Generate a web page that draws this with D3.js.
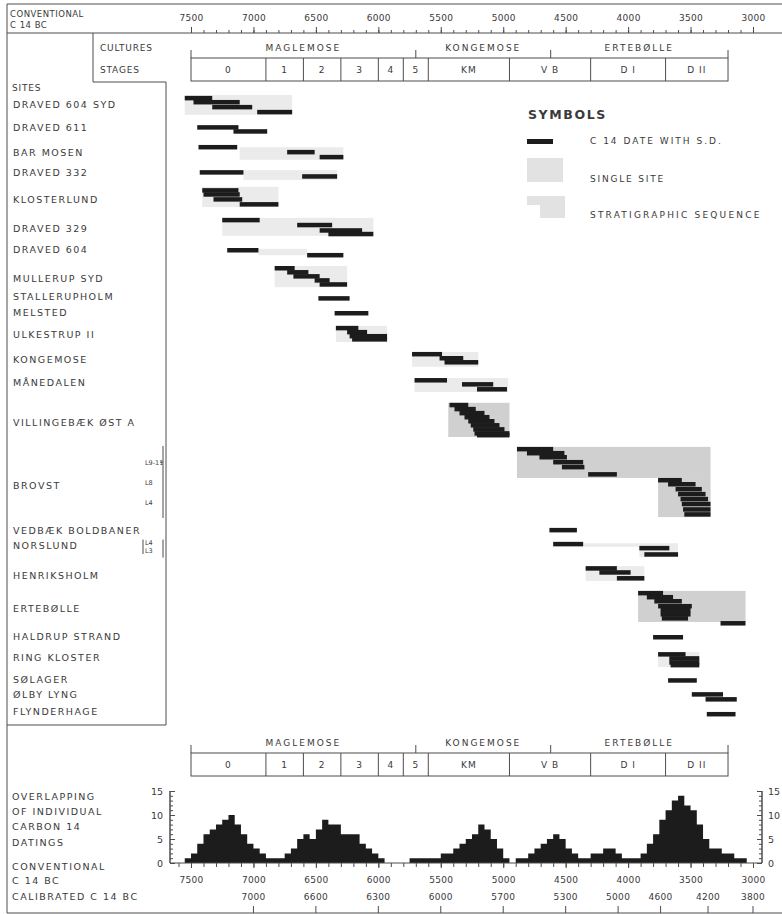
<!DOCTYPE html>
<html>
<head>
<meta charset="utf-8">
<script src="https://cdn.jsdelivr.net/npm/d3@7"></script>
<style>
  html, body { margin: 0; padding: 0; background: #fff; }
  svg { display: block; }
  text { font-family: "DejaVu Sans", sans-serif; fill: #3a3a3a; }
</style>
</head>
<body>
<svg id="chart" width="782" height="914"></svg>
<script>
// ---- Time axis (conventional C14 years BC) ----
const axisYears = [7500, 7000, 6500, 6000, 5500, 5000, 4500, 4000, 3500, 3000];

// ---- Cultures and stages ----
const cultureNames = ["MAGLEMOSE", "KONGEMOSE", "ERTEBØLLE"];
const cultureBounds = [7500, 5700, 4620, 3200];
const stageNames = ["0", "1", "2", "3", "4", "5", "KM", "V B", "D I", "D II"];
const stageBounds = [7500, 6900, 6600, 6300, 6000, 5800, 5600, 4950, 4300, 3700, 3200];

// ---- Sites (row position in lanes) ----
const siteNames = [
  "DRAVED 604 SYD", "DRAVED 611", "BAR MOSEN", "DRAVED 332", "KLOSTERLUND",
  "DRAVED 329", "DRAVED 604", "MULLERUP SYD", "STALLERUPHOLM", "MELSTED",
  "ULKESTRUP II", "KONGEMOSE", "MÅNEDALEN", "VILLINGEBÆK ØST A", "BROVST",
  "VEDBÆK BOLDBANER", "NORSLUND", "HENRIKSHOLM", "ERTEBØLLE", "HALDRUP STRAND",
  "RING KLOSTER", "SØLAGER", "ØLBY LYNG", "FLYNDERHAGE"
];
const siteLanes = [
  2.2, 7.3, 12.9, 17.3, 23.3, 29.6, 34.4, 40.9, 44.9, 48.4,
  53.3, 58.9, 64, 72.7, 86.9, 96.7, 100.2, 106.7, 114.2, 120.4,
  125.1, 129.8, 133.3, 137.1
];
// layer sub-labels [label, lane]
const layerLabels = [["L9-11", 81.6], ["L8", 86.2], ["L4", 90.7], ["L4", 99.4], ["L3", 101.2]];

// ---- C14 dates with S.D.: [from BC, to BC, lane] ----
const c14Dates = [
  // Draved 604 Syd
  [7550, 7330, 0.2], [7480, 7110, 1.1], [7330, 7010, 2.2], [6970, 6690, 3.3],
  // Draved 611
  [7450, 7120, 6.7], [7160, 6890, 7.6],
  // Bar Mosen
  [7440, 7130, 11.1], [6730, 6510, 12.2], [6470, 6280, 13.3],
  // Draved 332
  [7430, 7080, 16.7], [6610, 6330, 17.6],
  // Klosterlund
  [7410, 7120, 20.7], [7400, 7110, 21.6], [7320, 7090, 22.7], [7110, 6800, 23.8],
  // Draved 329
  [7250, 6950, 27.3], [6650, 6370, 28.4], [6470, 6130, 29.6], [6400, 6040, 30.4],
  // Draved 604
  [7210, 6960, 34], [6570, 6280, 35.1],
  // Mullerup Syd
  [6830, 6670, 38], [6730, 6560, 38.9], [6680, 6470, 39.8], [6510, 6390, 40.7], [6470, 6250, 41.6],
  // Stallerupholm, Melsted
  [6480, 6230, 44.7], [6350, 6080, 48],
  // Ulkestrup II
  [6340, 6160, 51.3], [6250, 6090, 52.2], [6230, 5930, 53.1], [6210, 5930, 53.8],
  // Kongemose
  [5730, 5490, 57.1], [5510, 5320, 58], [5470, 5200, 58.9],
  // Månedalen
  [5710, 5450, 62.9], [5330, 5080, 63.8], [5210, 4970, 64.9],
  // Villingebæk Øst A
  [5430, 5280, 68.4], [5390, 5220, 69.3], [5350, 5150, 70.2], [5310, 5110, 71.1],
  [5280, 5070, 72], [5260, 5030, 72.9], [5240, 4990, 73.8], [5230, 4950, 74.7], [5210, 4950, 75.1],
  // Brovst
  [4890, 4600, 78.2], [4810, 4510, 79.1], [4710, 4490, 80], [4600, 4360, 81.1],
  [4530, 4350, 82.2], [4320, 4090, 83.8],
  [3760, 3570, 85.1], [3680, 3460, 86], [3620, 3410, 87.1], [3600, 3380, 88.2],
  [3580, 3360, 89.3], [3570, 3340, 90.4], [3560, 3340, 91.6], [3550, 3340, 92.7],
  // Vedbæk Boldbaner
  [4630, 4410, 96.2],
  // Norslund
  [4600, 4360, 99.3], [3910, 3670, 100.2], [3870, 3600, 101.6],
  // Henriksholm
  [4340, 4090, 104.7], [4230, 3980, 105.6], [4090, 3870, 106.9],
  // Ertebølle
  [3920, 3720, 110.2], [3850, 3640, 111.1], [3790, 3570, 112], [3760, 3490, 113.1],
  [3740, 3500, 114], [3740, 3500, 114.9], [3730, 3520, 115.8], [3260, 3060, 116.9],
  // Haldrup Strand
  [3800, 3560, 120],
  // Ring Kloster
  [3760, 3540, 123.8], [3670, 3430, 124.7], [3670, 3430, 125.6], [3660, 3430, 126.2],
  // Sølager, Ølby Lyng, Flynderhage
  [3680, 3450, 129.6], [3490, 3240, 132.7], [3380, 3130, 133.8], [3370, 3140, 137.1]
];

// ---- Shaded ranges: [from BC, to BC, lane top, lane bottom] ----
const sequenceBlocks = [
  [5440, 4950, 68.4, 76],     // Villingebæk Øst A
  [4890, 3340, 78.2, 85.1],   // Brovst upper layers
  [3760, 3340, 85.1, 93.8],   // Brovst lower layers
  [3920, 3060, 110.2, 117.1]  // Ertebølle
];
const siteSpans = [
  [7550, 6690, 0, 4.4], [7110, 6280, 11.6, 14.4], [7080, 6330, 16.7, 18.9],
  [7410, 6800, 20.4, 24.9], [7250, 6040, 27.3, 31.3], [6960, 6570, 34.2, 35.6],
  [6830, 6250, 38, 42.7], [6340, 5930, 51.3, 54.9], [5730, 5200, 57.1, 60.4],
  [5710, 4960, 62.9, 66], [4360, 3910, 99.6, 100.4], [3910, 3600, 99.6, 102.7],
  [4340, 3870, 104.7, 108], [3760, 3430, 123.8, 127.1]
];

// ---- Overlapping of individual C14 datings, 50-year bins ----
const overlapBins = [
  7550, 7500, 7450, 7400, 7350, 7300, 7250, 7200, 7150, 7100,
  7050, 7000, 6950, 6900, 6850, 6800, 6750, 6700, 6650, 6600,
  6550, 6500, 6450, 6400, 6350, 6300, 6250, 6200, 6150, 6100,
  6050, 6000, 5950, 5900, 5850, 5800, 5750, 5700, 5650, 5600,
  5550, 5500, 5450, 5400, 5350, 5300, 5250, 5200, 5150, 5100,
  5050, 5000, 4950, 4900, 4850, 4800, 4750, 4700, 4650, 4600,
  4550, 4500, 4450, 4400, 4350, 4300, 4250, 4200, 4150, 4100,
  4050, 4000, 3950, 3900, 3850, 3800, 3750, 3700, 3650, 3600,
  3550, 3500, 3450, 3400, 3350, 3300, 3250, 3200, 3150, 3100
];
const overlapCounts = [
  1, 2, 4, 6, 7, 8, 9, 10, 8, 6,
  4, 3, 2, 1, 1, 1, 2, 3, 5, 6,
  5, 7, 9, 8, 8, 6, 6, 6, 4, 3,
  2, 1, 0, 0, 0, 0, 1, 1, 1, 1,
  1, 2, 2, 3, 4, 5, 6, 8, 7, 5,
  3, 1, 0, 1, 1, 2, 3, 4, 5, 6,
  5, 3, 2, 1, 1, 2, 2, 3, 3, 2,
  1, 1, 1, 2, 4, 6, 9, 11, 13, 14,
  12, 11, 8, 5, 3, 3, 2, 2, 1, 1
];
const overlapTicks = [0, 5, 10, 15];

// ---- Calibrated C14 BC labels and their conventional positions ----
const calibratedLabels = [7000, 6600, 6300, 6000, 5700, 5300, 5000, 4600, 4200, 3800];
const calibratedAt = [7000, 6500, 6000, 5500, 5000, 4500, 4080, 3740, 3360, 3000];

// ================= drawing =================
const ink = "#4d4d4d";
const svg = d3.select("#chart");
svg.append("rect").attr("width", 782).attr("height", 914).attr("fill", "#fff");

const xs = d3.scaleLinear().domain([7500, 3000]).range([191, 753]);
const laneY = d3.scaleLinear().domain([0, 140]).range([95, 725]);

function rule(x1, y1, x2, y2, w = 1) {
  svg.append("line").attr("x1", x1).attr("y1", y1).attr("x2", x2).attr("y2", y2)
    .attr("stroke", ink).attr("stroke-width", w);
}
function label(x, y, s, size = 9.5, anchor = "start", spacing = 1) {
  return svg.append("text").attr("x", x).attr("y", y).attr("dy", "0.36em")
    .attr("text-anchor", anchor).style("font-size", size + "px")
    .style("letter-spacing", spacing + "px").text(s);
}

// frame and panels
rule(7, 4, 782, 4);
rule(7, 4, 7, 913);
rule(7, 913, 782, 913);
rule(7, 33, 782, 33);
rule(93, 33, 93, 82);
rule(93, 82, 166, 82);
rule(166, 82, 166, 725);
rule(7, 725, 166, 725);

label(10, 14, "CONVENTIONAL", 8.5, "start", 0.5);
label(10, 25, "C 14 BC", 8.5, "start", 0.5);
label(100, 48, "CULTURES", 9, "start", 0.8);
label(100, 70, "STAGES", 9, "start", 0.8);
label(12, 88, "SITES", 9, "start", 0.8);

// top axis
const topAxis = svg.append("g").attr("transform", "translate(0,33)");
topAxis.call(d3.axisTop(xs).tickValues(d3.range(7500, 2999, -100)).tickSize(3).tickFormat(""));
topAxis.append("g").call(d3.axisTop(xs).tickValues(axisYears).tickSize(6).tickPadding(6).tickFormat(d3.format("d")));
topAxis.selectAll(".domain").remove();
topAxis.selectAll("line").attr("stroke", ink);
topAxis.selectAll("text").style("font-size", "9px").style("letter-spacing", "0.3px")
  .style("font-family", "'DejaVu Sans', sans-serif").attr("fill", "#3a3a3a");

// cultures / stages band
function drawStages(top) {
  const left = xs(stageBounds[0]), right = xs(stageBounds[stageBounds.length - 1]);
  svg.append("rect").attr("x", left).attr("y", top).attr("width", right - left).attr("height", 23)
    .attr("fill", "none").attr("stroke", ink);
  stageBounds.slice(1, -1).forEach(b => rule(xs(b), top, xs(b), top + 23));
  cultureBounds.forEach(b => rule(xs(b), top - 8, xs(b), top));
  cultureNames.forEach((n, i) =>
    label((xs(cultureBounds[i]) + xs(cultureBounds[i + 1])) / 2, top - 10, n, 9, "middle", 2));
  stageNames.forEach((n, i) =>
    label((xs(stageBounds[i]) + xs(stageBounds[i + 1])) / 2, top + 12, n, 9, "middle", 1));
}
drawStages(58);

// shaded ranges
svg.append("g").selectAll("rect").data(siteSpans).join("rect")
  .attr("x", d => xs(d[0])).attr("width", d => xs(d[1]) - xs(d[0]))
  .attr("y", d => laneY(d[2])).attr("height", d => laneY(d[3]) - laneY(d[2]))
  .attr("fill", "#ebebeb");
svg.append("g").selectAll("rect").data(sequenceBlocks).join("rect")
  .attr("x", d => xs(d[0])).attr("width", d => xs(d[1]) - xs(d[0]))
  .attr("y", d => laneY(d[2])).attr("height", d => laneY(d[3]) - laneY(d[2]))
  .attr("fill", "#d0d0d0");

// C14 dates
svg.append("g").selectAll("rect").data(c14Dates).join("rect")
  .attr("x", d => xs(d[0])).attr("width", d => xs(d[1]) - xs(d[0]))
  .attr("y", d => laneY(d[2])).attr("height", d => laneY(d[2] + 1) - laneY(d[2]))
  .attr("fill", "#1c1c1c");

// site labels
siteNames.forEach((n, i) => label(13, laneY(siteLanes[i]), n, 9.5, "start", 1.5));
layerLabels.forEach(([n, l]) => label(145, laneY(l), n, 6.5, "start", 0));
rule(163, laneY(78), 163, laneY(94));
rule(160, laneY(81.6), 163, laneY(81.6));
rule(163, laneY(98.8), 163, laneY(102.8));
rule(143, laneY(98.8), 143, laneY(102));

// legend
label(528, 114, "SYMBOLS", 12.5, "start", 1.6).style("font-weight", "bold").attr("fill", "#333");
svg.append("rect").attr("x", 527).attr("y", 139).attr("width", 26).attr("height", 5).attr("fill", "#1c1c1c");
label(590, 141, "C 14 DATE WITH S.D.", 9, "start", 2);
svg.append("rect").attr("x", 527).attr("y", 158).attr("width", 36).attr("height", 24).attr("fill", "#e2e2e2");
label(590, 179, "SINGLE SITE", 9, "start", 1.8);
svg.append("path").attr("d", "M527,196H565V218H540V205H527Z").attr("fill", "#e2e2e2");
label(590, 215, "STRATIGRAPHIC SEQUENCE", 9, "start", 2.2);

// ---- lower panel ----
drawStages(753);

const hy = d3.scaleLinear().domain([0, 15]).range([863, 791]);
const pts = overlapBins.map((b, i) => [b, overlapCounts[i]]);
pts.push([overlapBins[overlapBins.length - 1] - 50, overlapCounts[overlapCounts.length - 1]]);
svg.append("path").datum(pts)
  .attr("d", d3.area().curve(d3.curveStepAfter).x(d => xs(d[0])).y0(hy(0)).y1(d => hy(d[1])))
  .attr("fill", "#1c1c1c");

// left count axis
const la = svg.append("g").attr("transform", "translate(170,0)")
  .call(d3.axisRight(hy).tickValues(d3.range(0, 16)).tickSize(3).tickFormat(""));
la.append("g").call(d3.axisRight(hy).tickValues(overlapTicks).tickSize(5).tickFormat(d3.format("d")));
la.selectAll("text").attr("x", -7).attr("text-anchor", "end");
// right count axis
const ra = svg.append("g").attr("transform", "translate(762,0)")
  .call(d3.axisLeft(hy).tickValues(d3.range(0, 16)).tickSize(3).tickFormat(""));
ra.append("g").call(d3.axisLeft(hy).tickValues(overlapTicks).tickSize(5).tickFormat(d3.format("d")));
ra.selectAll("text").attr("x", 6).attr("text-anchor", "start");
[la, ra].forEach(a => {
  a.selectAll("line, path").attr("stroke", ink);
  a.selectAll("text").style("font-size", "9.5px").style("font-family", "'DejaVu Sans', sans-serif").attr("fill", "#3a3a3a");
});
ra.selectAll(".domain").attr("d", `M0,${hy(15)}V${hy(0)}`);
la.selectAll(".domain").attr("d", `M0,${hy(15)}V${hy(0)}`);

// bottom conventional axis
rule(170, 863, 762, 863);
const ba = svg.append("g").attr("transform", "translate(0,863)");
ba.call(d3.axisBottom(xs).tickValues(d3.range(7600, 2999, -100)).tickSize(4).tickFormat(""));
ba.append("g").call(d3.axisBottom(xs).tickValues(axisYears).tickSize(5).tickPadding(9).tickFormat(d3.format("d")));
ba.selectAll(".domain").remove();
ba.selectAll("line").attr("stroke", ink);
ba.selectAll("text").style("font-size", "9px").style("letter-spacing", "0.3px")
  .style("font-family", "'DejaVu Sans', sans-serif").attr("fill", "#3a3a3a");

// calibrated labels and ticks
calibratedLabels.forEach((c, i) => {
  label(xs(calibratedAt[i]), 897, String(c), 9, "middle", 0.3);
  rule(xs(calibratedAt[i]), 906, xs(calibratedAt[i]), 913);
});

// lower panel captions
label(12, 797, "OVERLAPPING", 9.5, "start", 1.5);
label(12, 812, "OF INDIVIDUAL", 9.5, "start", 1.5);
label(12, 827, "CARBON 14", 9.5, "start", 1.5);
label(12, 843, "DATINGS", 9.5, "start", 1.5);
label(12, 867, "CONVENTIONAL", 9.5, "start", 1.5);
label(12, 881, "C 14 BC", 9.5, "start", 1.5);
label(12, 897, "CALIBRATED C 14 BC", 9.5, "start", 1.5);
</script>
</body>
</html>
